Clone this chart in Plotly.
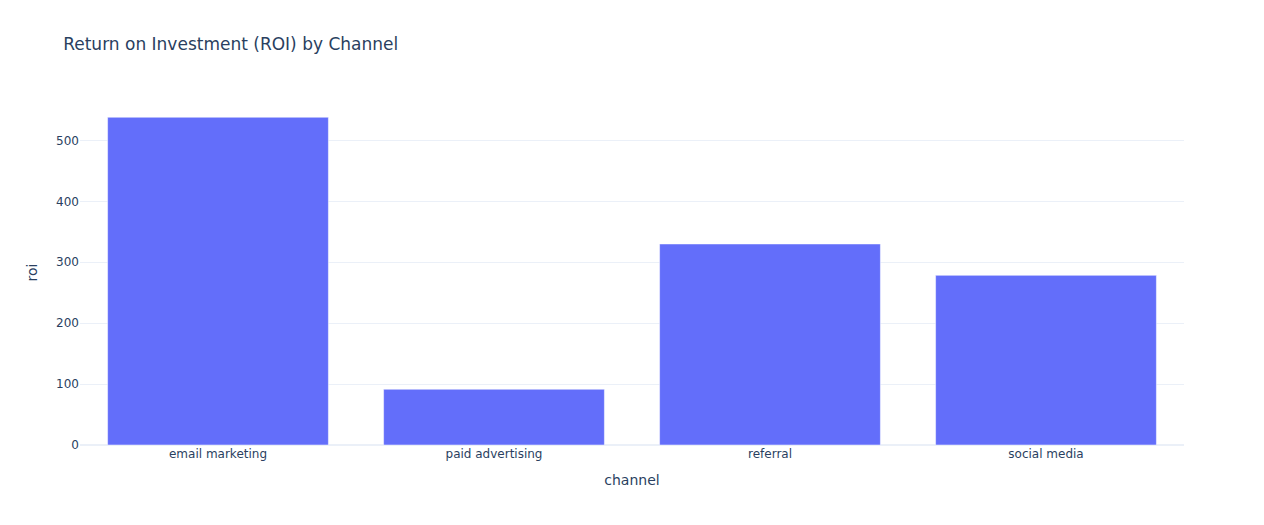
import plotly.graph_objects as go

channels = ["email marketing", "paid advertising", "referral", "social media"]
roi = [538, 91.5, 330, 278.5]

fig = go.Figure(go.Bar(x=channels, y=roi, marker_color="#636efa"))
fig.update_layout(
    template="plotly_white",
    font=dict(family="DejaVu Sans, Verdana, sans-serif"),
    title="Return on Investment (ROI) by Channel",
    xaxis_title="channel",
    yaxis_title="roi",
    width=1264,
    height=525,
)
fig.write_html("out.html")
